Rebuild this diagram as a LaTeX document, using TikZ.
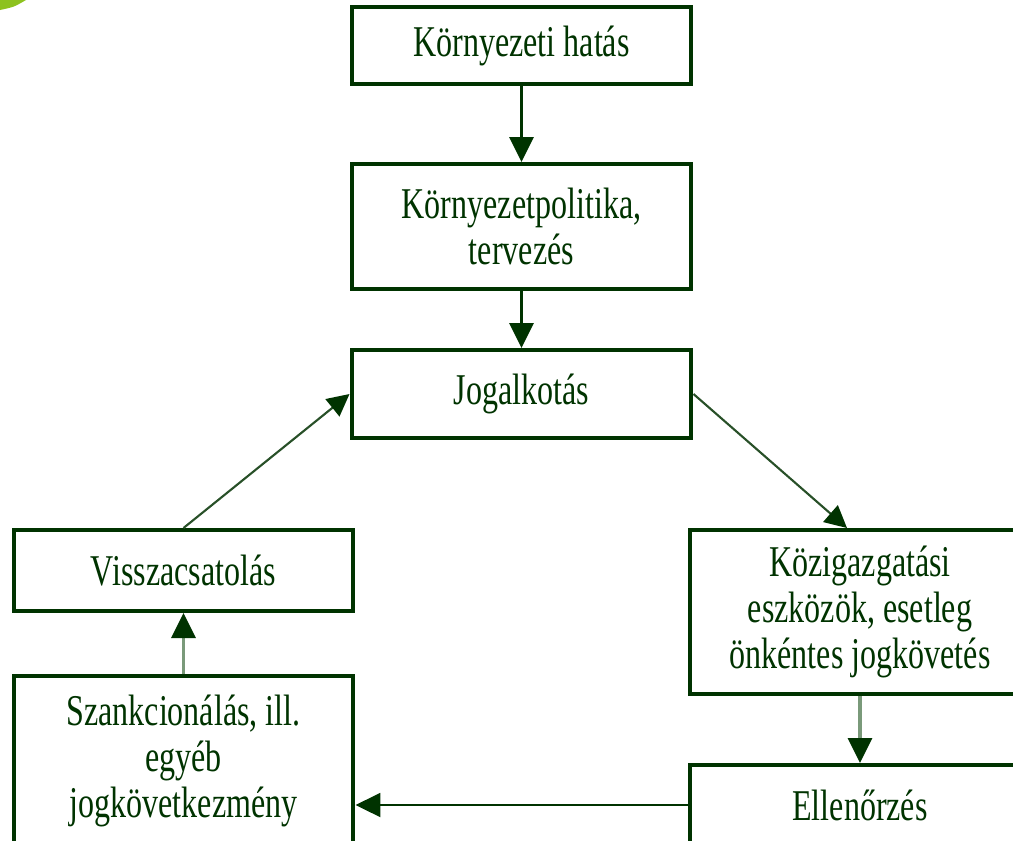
\documentclass[tikz,border=0pt]{standalone}
\usepackage{fontspec}
\setmainfont{Liberation Serif}[FakeStretch=0.73]
\usetikzlibrary{arrows.meta}
\definecolor{darkgreen}{RGB}{0,51,0}
\definecolor{midgreen}{RGB}{40,80,40}
\definecolor{palegreen}{RGB}{122,154,122}
\definecolor{leafgreen}{RGB}{141,194,31}

\begin{document}
\begin{tikzpicture}[
    x=0.02cm, y=-0.02cm,
    >={Triangle[width=0.48cm,length=0.5cm]},
    font=\fontsize{25}{26}\selectfont,
    box/.style={draw=darkgreen, text=darkgreen, line width=2.3pt, align=center, minimum width=6.8cm, inner sep=0pt},
    link/.style={->, darkgreen, line width=1.7pt},
    thin link/.style={-{Triangle[width=0.44cm,length=0.44cm,color=darkgreen]}, midgreen, line width=1.2pt},
    pale link/.style={-{Triangle[width=0.48cm,length=0.5cm,color=darkgreen]}, palegreen, line width=1.8pt}
]
\useasboundingbox (0,0) rectangle (1013,840);
\clip (0,0) rectangle (1013,840);

\fill[leafgreen] (0,0) -- (26,0) .. controls (14,7) .. (0,10) -- cycle;

\node[box, minimum height=1.54cm] (hatas) at (521.5,45.5) {Környezeti hatás};
\node[box, minimum height=2.5cm] (politika) at (521.5,226.5) {Környezetpolitika,\\tervezés};
\node[box, minimum height=1.76cm] (jog) at (521.5,394) {Jogalkotás};
\node[box, minimum height=1.62cm] (vissza) at (183.5,570.5) {Visszacsatolás};
\node[box, minimum height=3.28cm] (kozig) at (860,612) {Közigazgatási\\eszközök, esetleg\\önkéntes jogkövetés};
\node[box, minimum height=3.4cm] (szank) at (183.5,761) {Szankcionálás, ill.\\egyéb\\jogkövetkezmény};
\node[box, minimum height=1.6cm] (ellen) at (860,805) {Ellenőrzés};

\draw[link] (hatas) -- (politika);
\draw[link] (politika) -- (jog);
\draw[thin link] (vissza.north) -- (jog.west);
\draw[thin link] (jog.east) -- ([xshift=-0.26cm]kozig.north);
\draw[pale link] (kozig) -- (ellen);
\draw[pale link] (szank) -- (vissza);
\draw[link, line width=1.2pt] (ellen.west) -- (szank.east |- ellen.west);
\end{tikzpicture}
\end{document}
